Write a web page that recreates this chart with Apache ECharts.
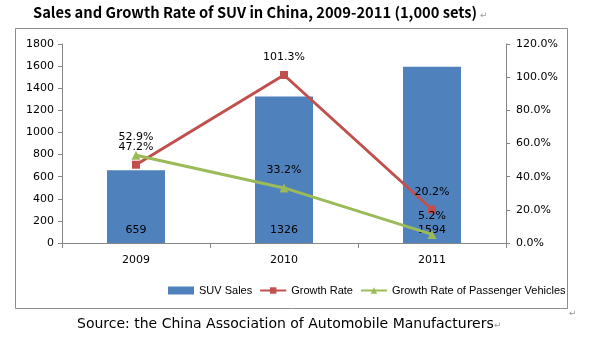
<!DOCTYPE html>
<html><head><meta charset="utf-8">
<script src="https://cdn.jsdelivr.net/npm/echarts@6/dist/echarts.min.js"></script>
<style>html,body{margin:0;padding:0;background:#fff}#c{width:589px;height:338px}</style>
</head><body><div id="c"></div>
<script>
const years = ['2009', '2010', '2011'];
const suvSales = [659, 1326, 1594];
const growthRate = [47.2, 101.3, 20.2];
const passengerGrowth = [52.9, 33.2, 5.2];
const leftTicks = {min: 0, max: 1800, interval: 200};
const rightTicks = {min: 0, max: 120, interval: 20};

const chart = echarts.init(document.getElementById('c'));
const font = 'DejaVu Sans';
chart.setOption({
  animation: false,
  graphic: [
    {type: 'text', x: 33, y: 5, style: {text: 'Sales and Growth Rate of SUV in China, 2009-2011 (1,000 sets)', font: 'bold 14.7px "Noto Sans CJK SC"', fill: '#000'}},
    {type: 'text', x: 480, y: 11, style: {text: '↵', font: '9px "DejaVu Sans"', fill: '#999'}},
    {type: 'rect', shape: {x: 15.5, y: 28.5, width: 552, height: 280}, style: {fill: 'none', stroke: '#8c8c8c', lineWidth: 1}},
    {type: 'text', x: 77, y: 317, style: {text: 'Source: the China Association of Automobile Manufacturers', font: '14px "DejaVu Sans"', fill: '#000'}},
    {type: 'text', x: 494, y: 321, style: {text: '↵', font: '9px "DejaVu Sans"', fill: '#999'}},
    {type: 'text', x: 569, y: 309, style: {text: '↵', font: '9px "DejaVu Sans"', fill: '#999'}}
  ],
  legend: {
    left: 163, top: 280, itemWidth: 26, itemHeight: 8, itemGap: 7,
    textStyle: {fontFamily: 'Liberation Sans', fontSize: 11, color: '#000'},
    data: [{name: 'SUV Sales', icon: 'rect'}, 'Growth Rate', 'Growth Rate of Passenger Vehicles']
  },
  grid: {left: 62, right: 83, top: 44, bottom: 95},
  xAxis: {
    type: 'category', data: years, boundaryGap: true,
    axisLine: {lineStyle: {color: '#868686'}},
    axisTick: {show: true, length: 5, lineStyle: {color: '#868686'}},
    axisLabel: {fontFamily: font, fontSize: 11, color: '#000', margin: 12}
  },
  yAxis: [
    {type: 'value', min: leftTicks.min, max: leftTicks.max, interval: leftTicks.interval,
      splitLine: {show: false},
      axisLine: {show: true, lineStyle: {color: '#868686'}},
      axisTick: {show: true, length: 4, lineStyle: {color: '#868686'}},
      axisLabel: {fontFamily: font, fontSize: 11, color: '#000', margin: 8, formatter: v => String(v)}},
    {type: 'value', min: rightTicks.min, max: rightTicks.max, interval: rightTicks.interval,
      splitLine: {show: false},
      axisLine: {show: true, lineStyle: {color: '#868686'}},
      axisTick: {show: true, length: 4, lineStyle: {color: '#868686'}},
      axisLabel: {fontFamily: font, fontSize: 11, color: '#000', margin: 10,
        formatter: v => v.toFixed(1) + '%'}}
  ],
  series: [
    {name: 'SUV Sales', type: 'bar', data: suvSales, barWidth: 58,
      itemStyle: {color: '#4F81BD'},
      label: {show: true, position: 'insideBottom', distance: 7, fontFamily: font, fontSize: 11, color: '#000'}},
    {name: 'Growth Rate', type: 'line', yAxisIndex: 1, data: growthRate,
      symbol: 'rect', symbolSize: 8, lineStyle: {width: 3, color: '#C0504D'},
      itemStyle: {color: '#C0504D'},
      label: {show: true, position: 'top', distance: 8, fontFamily: font, fontSize: 11, color: '#000',
        formatter: p => p.value.toFixed(1) + '%'}},
    {name: 'Growth Rate of Passenger Vehicles', type: 'line', yAxisIndex: 1, data: passengerGrowth,
      symbol: 'triangle', symbolSize: 9, lineStyle: {width: 3, color: '#9BBB59'},
      itemStyle: {color: '#9BBB59'},
      label: {show: true, position: 'top', distance: 8, fontFamily: font, fontSize: 11, color: '#000',
        formatter: p => p.value.toFixed(1) + '%'}}
  ]
});
</script></body></html>
